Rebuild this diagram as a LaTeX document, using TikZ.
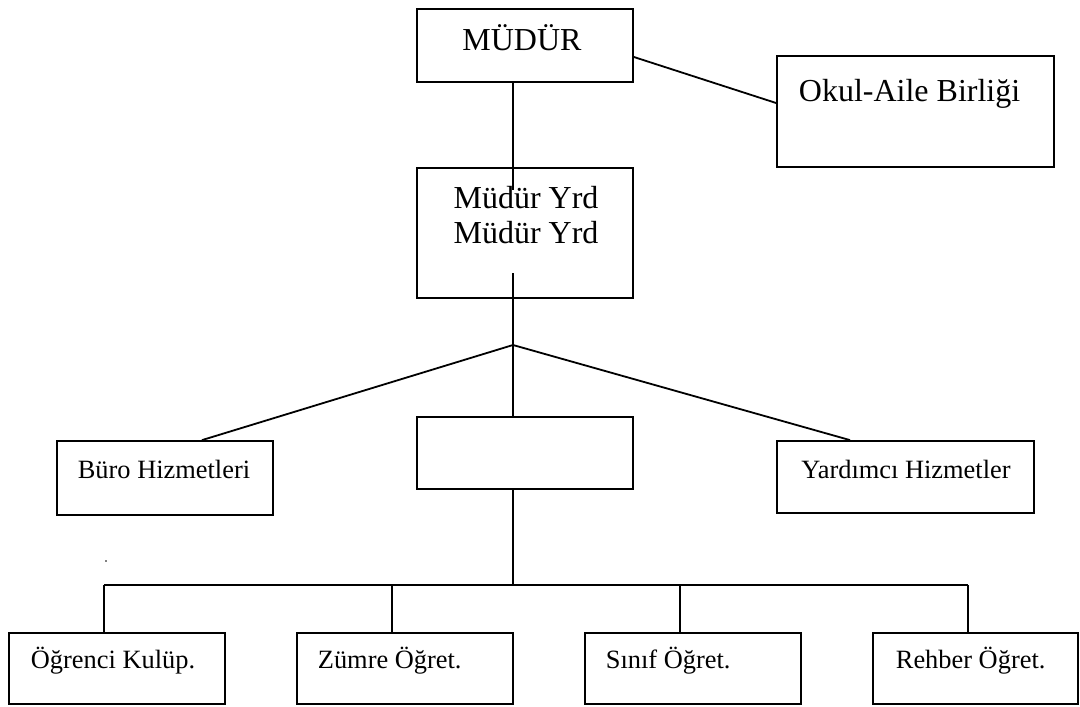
\documentclass[tikz,border=0pt]{standalone}
\usepackage{fontspec}
\setmainfont{Liberation Serif}
\usetikzlibrary{calc}
\tikzset{
    kutu/.style={draw, rectangle, inner sep=0pt, line width=1.8pt},
    buyuk/.style={inner sep=0pt, font=\fontsize{32}{35}\selectfont},
    kucuk/.style={inner sep=0pt, font=\fontsize{26.4}{29}\selectfont}
}
\begin{document}
\begin{tikzpicture}[x=1pt, y=-1pt, line width=1.8pt]
    \useasboundingbox (0,0) rectangle (1080,707);
    % kutular
    \node[kutu, minimum width=216pt, minimum height=73pt] (mudur) at (525,45.5) {};
    \node[kutu, minimum width=216pt, minimum height=130pt] (yrd) at (525,233) {};
    \node[kutu, minimum width=277pt, minimum height=111pt] (okul) at (915.5,111.5) {};
    \node[kutu, minimum width=216pt, minimum height=74pt] (buro) at (165,478) {};
    \node[kutu, minimum width=216pt, minimum height=72pt] (orta) at (525,453) {};
    \node[kutu, minimum width=257pt, minimum height=72pt] (yardimci) at (905.5,477) {};
    \node[kutu, minimum width=216pt, minimum height=71pt] (ogrenci) at (117,668.5) {};
    \node[kutu, minimum width=216pt, minimum height=71pt] (zumre) at (405,668.5) {};
    \node[kutu, minimum width=216pt, minimum height=71pt] (sinif) at (693,668.5) {};
    \node[kutu, minimum width=205pt, minimum height=71pt] (rehber) at (975.5,668.5) {};
    % yazilar
    \node[buyuk, anchor=base] (mudurY) at (522,50) {MÜDÜR};
    \node[buyuk, anchor=base] (yrdY1) at (526,208) {Müdür Yrd};
    \node[buyuk, anchor=base] (yrdY2) at (526,243) {Müdür Yrd};
    \node[buyuk, anchor=base west] (okulY) at (798,101) {Okul-Aile Birliği};
    \node[kucuk, anchor=base] (buroY) at (164,478) {Büro Hizmetleri};
    \node[kucuk, anchor=base] (yardimciY) at (906,478) {Yardımcı Hizmetler};
    \node[kucuk, anchor=base west] (ogrenciY) at (30,668) {Öğrenci Kulüp.};
    \node[kucuk, anchor=base west] (zumreY) at (317,668) {Zümre Öğret.};
    \node[kucuk, anchor=base west] (sinifY) at (605,668) {Sınıf Öğret.};
    \node[kucuk, anchor=base west] (rehberY) at (895,668) {Rehber Öğret.};
    % baglantilar
    \coordinate (m1) at (513,190);
    \coordinate (y1) at (513,273);
    \coordinate (dal) at (513,345);
    \coordinate (alt) at (513,585);
    \draw (m1 |- mudur.south) -- (m1);
    \draw ($(mudur.east)+(0,11.5)$) -- ($(okul.west)+(0,-8.5)$);
    \draw (y1) -- (dal);
    \draw (dal) -- ($(buro.north)+(37,0)$);
    \draw (dal) -- ($(yardimci.north)+(-55.5,0)$);
    \draw (dal) -- (dal |- orta.north);
    \draw (dal |- orta.south) -- (alt);
    \draw ([xshift=96pt]ogrenci.north west |- alt) -- ([xshift=96pt]rehber.north west |- alt);
    \foreach \k in {ogrenci,zumre,sinif,rehber}
        \draw ([xshift=96pt]\k.north west) -- ([xshift=96pt]\k.north west |- alt);
    \fill (106,561) circle (0.8);
\end{tikzpicture}
\end{document}
